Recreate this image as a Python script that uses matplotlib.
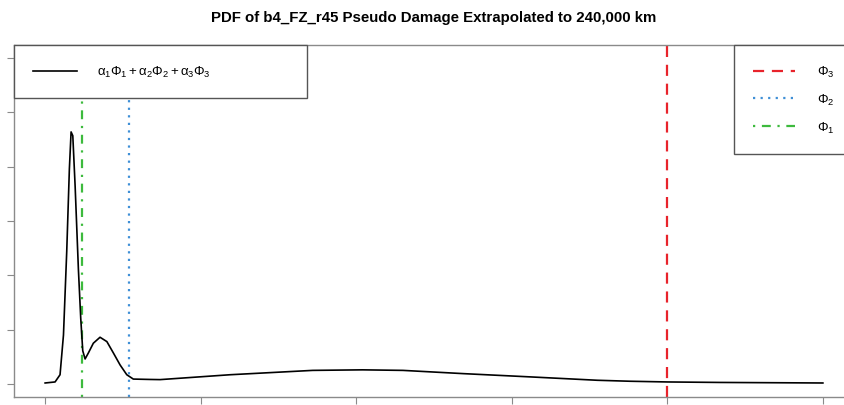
#!/usr/bin/env python3
"""PDF of pseudo damage mixture with component markers."""

import matplotlib
matplotlib.use("Agg")
import matplotlib.pyplot as plt
from matplotlib.lines import Line2D

# mixture density (x ticks at 0..5, y ticks at 0..6)
mix_x = [0.0, 0.064, 0.096, 0.118, 0.139, 0.156, 0.167, 0.178, 0.193, 0.214,
         0.229, 0.242, 0.257, 0.278, 0.31, 0.353, 0.397, 0.439, 0.482, 0.525,
         0.567, 0.675, 0.739, 1.19, 1.72, 2.04, 2.30, 2.69, 3.12, 3.55, 3.76,
         4.0, 4.34, 5.0]
mix_y = [0.018, 0.037, 0.17, 0.90, 2.44, 3.96, 4.64, 4.57, 3.64, 2.11,
         1.21, 0.61, 0.46, 0.57, 0.75, 0.86, 0.78, 0.57, 0.35, 0.17,
         0.09, 0.083, 0.08, 0.17, 0.25, 0.26, 0.25, 0.19, 0.13, 0.068, 0.05,
         0.037, 0.028, 0.018]

# component means (vertical markers)
comp_labels = [r"$\Phi_3$", r"$\Phi_2$", r"$\Phi_1$"]
comp_x = [4.0, 0.54, 0.24]
comp_colors = ["#e8232b", "#3f8fd6", "#3dba3d"]
comp_dashes = [(5, 3.5), (1, 2.4), (1, 3, 4, 3)]

x_ticks = [0, 1, 2, 3, 4, 5]
y_ticks = [0, 1, 2, 3, 4, 5, 6]

TITLE = "PDF of b4_FZ_r45 Pseudo Damage Extrapolated to 240,000 km"


def main() -> None:
    plt.rcParams["font.family"] = ["Liberation Sans", "DejaVu Sans"]
    plt.rcParams["mathtext.fontset"] = "custom"
    plt.rcParams["mathtext.rm"] = "Liberation Sans"
    plt.rcParams["mathtext.it"] = "Liberation Sans"
    W, H = 845, 406
    fig = plt.figure(figsize=(W / 100, H / 100), dpi=100)
    ax = fig.add_axes([14 / W, 1 - 398 / H, 840 / W, 352 / H])

    ax.plot(mix_x, mix_y, color="black", lw=1.2, zorder=3)
    handles = []
    for lab, xv, c, d in zip(comp_labels, comp_x, comp_colors, comp_dashes):
        ax.axvline(xv, color=c, lw=1.6, dashes=d, zorder=2)
        handles.append(Line2D([], [], color=c, lw=1.6, dashes=d, label=lab))

    ax.set_xlim(-0.2, 5.2)
    ax.set_ylim(-0.24, 6.24)
    ax.set_xticks(x_ticks)
    ax.set_yticks(y_ticks)
    ax.tick_params(length=5, color="#8a8a8a", labelleft=False, labelbottom=False)
    for s in ax.spines.values():
        s.set_color("#8a8a8a")
        s.set_linewidth(1.0)

    mix_handle = [Line2D([], [], color="black", lw=1.2,
                         label=r"$\alpha_1\Phi_1+\alpha_2\Phi_2+\alpha_3\Phi_3$")]
    leg1 = ax.legend(handles=mix_handle, loc="upper left",
                     bbox_to_anchor=(0, 0.849, 0.349, 0.151), mode="expand",
                     borderaxespad=0, borderpad=1.45, handlelength=3.3,
                     handletextpad=1.55, fontsize=9.5, fancybox=False,
                     edgecolor="#555555", framealpha=1)
    leg1.get_frame().set_linewidth(1.0)
    ax.add_artist(leg1)

    leg2 = ax.legend(handles=handles, loc="upper right", bbox_to_anchor=(1, 1),
                     borderaxespad=0, borderpad=1.45, handlelength=3.2,
                     handletextpad=1.7, labelspacing=0.95, fontsize=9.5,
                     fancybox=False, edgecolor="#555555", framealpha=1)
    leg2.get_frame().set_linewidth(1.0)

    # R centres the main title over the plot region, not the page
    fig.text(434 / W, 1 - 18 / H, TITLE, ha="center", va="center",
             fontsize=10.8, fontweight="bold")

    fig.savefig("out.png", dpi=100)
    plt.close(fig)


if __name__ == "__main__":
    main()
